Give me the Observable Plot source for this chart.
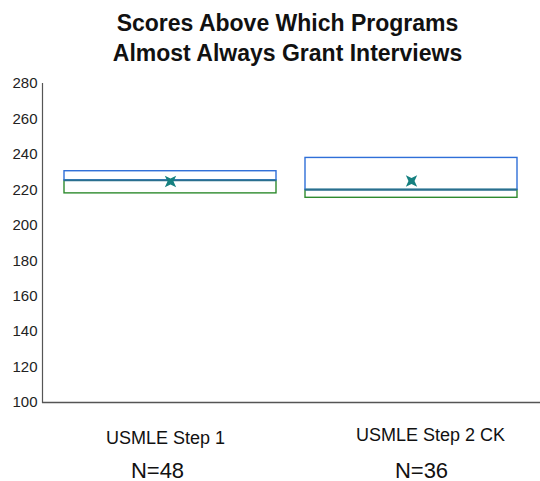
<!DOCTYPE html>
<html>
<head>
<meta charset="utf-8">
<script src="https://cdn.jsdelivr.net/npm/d3@7"></script>
<script src="https://cdn.jsdelivr.net/npm/@observablehq/plot@0.6"></script>
<style>
  html, body { margin: 0; padding: 0; background: #fff; }
  #chart svg { display: block; }
</style>
</head>
<body>
<div id="chart"></div>
<script>
// Data
const categories = ["USMLE Step 1", "USMLE Step 2 CK"];
const nLabels = ["N=48", "N=36"];
const q1Values = [218, 215.5];
const medianValues = [225.3, 220];
const q3Values = [230.5, 238];
const meanValues = [224.7, 225];
const yTicks = [100, 120, 140, 160, 180, 200, 220, 240, 260, 280];
const titleText = "Scores Above Which Programs\nAlmost Always Grant Interviews";

const rows = categories.map((c, i) => ({
  cat: c, n: nLabels[i], q1: q1Values[i], med: medianValues[i], q3: q3Values[i], mean: meanValues[i]
}));

// 4-pointed star rotated 45 degrees
const star4 = {
  draw(context, size) {
    const r = Math.sqrt(size / Math.PI);
    const ri = r * 0.38;
    for (let k = 0; k < 8; k++) {
      const a = Math.PI / 4 + k * Math.PI / 4;
      const rr = k % 2 === 0 ? r : ri;
      const x = rr * Math.cos(a), y = rr * Math.sin(a);
      if (k === 0) context.moveTo(x, y); else context.lineTo(x, y);
    }
    context.closePath();
  }
};

const font = "Arial, 'Liberation Sans', sans-serif";

const chart = Plot.plot({
  width: 540,
  height: 481,
  marginLeft: 42,
  marginRight: 0,
  marginTop: 83,
  marginBottom: 79,
  style: { fontFamily: font, background: "#fff", color: "#111" },
  x: { domain: categories, paddingInner: 0.12, paddingOuter: 0.093, axis: null },
  y: { domain: [100, 280], ticks: yTicks, tickSize: 0, tickPadding: 5, label: null },
  marks: [
    Plot.axisY({ ticks: yTicks, tickSize: 0, tickPadding: 5, fontSize: 15, label: null, fill: "#222" }),
    Plot.frame({ anchor: "left", stroke: "#555", strokeWidth: 1.2 }),
    Plot.ruleY([100], { stroke: "#555", strokeWidth: 1.3 }),
    // lower box (Q1 - median)
    Plot.rect(rows, { x: "cat", y1: "q1", y2: "med", fill: "white", stroke: "#2e8b2e", strokeWidth: 1.4 }),
    // upper box (median - Q3)
    Plot.rect(rows, { x: "cat", y1: "med", y2: "q3", fill: "none", stroke: "#2f6fd8", strokeWidth: 1.4 }),
    // median line
    Plot.tickY(rows, { x: "cat", y: "med", stroke: "#2a6f8e", strokeWidth: 1.6 }),
    // mean marker
    Plot.dot(rows, { x: "cat", y: "mean", symbol: star4, r: 8, fill: "#158080", stroke: "none" }),
    // category labels
    Plot.text(rows.slice(0, 1), { x: "cat", text: "cat", frameAnchor: "bottom", lineAnchor: "bottom", dy: 41, dx: -5, fontSize: 18, fill: "#111" }),
    Plot.text(rows.slice(1, 2), { x: "cat", text: "cat", frameAnchor: "bottom", lineAnchor: "bottom", dy: 38, dx: 19, fontSize: 18, fill: "#111" }),
    Plot.text(rows.slice(0, 1), { x: "cat", text: "n", frameAnchor: "bottom", lineAnchor: "bottom", dy: 75, dx: -13, fontSize: 22, fill: "#111" }),
    Plot.text(rows.slice(1, 2), { x: "cat", text: "n", frameAnchor: "bottom", lineAnchor: "bottom", dy: 75, dx: 10, fontSize: 22, fill: "#111" }),
    // title
    Plot.text([titleText], { text: d => d, frameAnchor: "top", lineAnchor: "bottom", dy: -23, dx: -4, fontSize: 23, fontWeight: "bold", lineHeight: 1.3, fill: "#111" })
  ]
});

document.getElementById("chart").appendChild(chart);
</script>
</body>
</html>
